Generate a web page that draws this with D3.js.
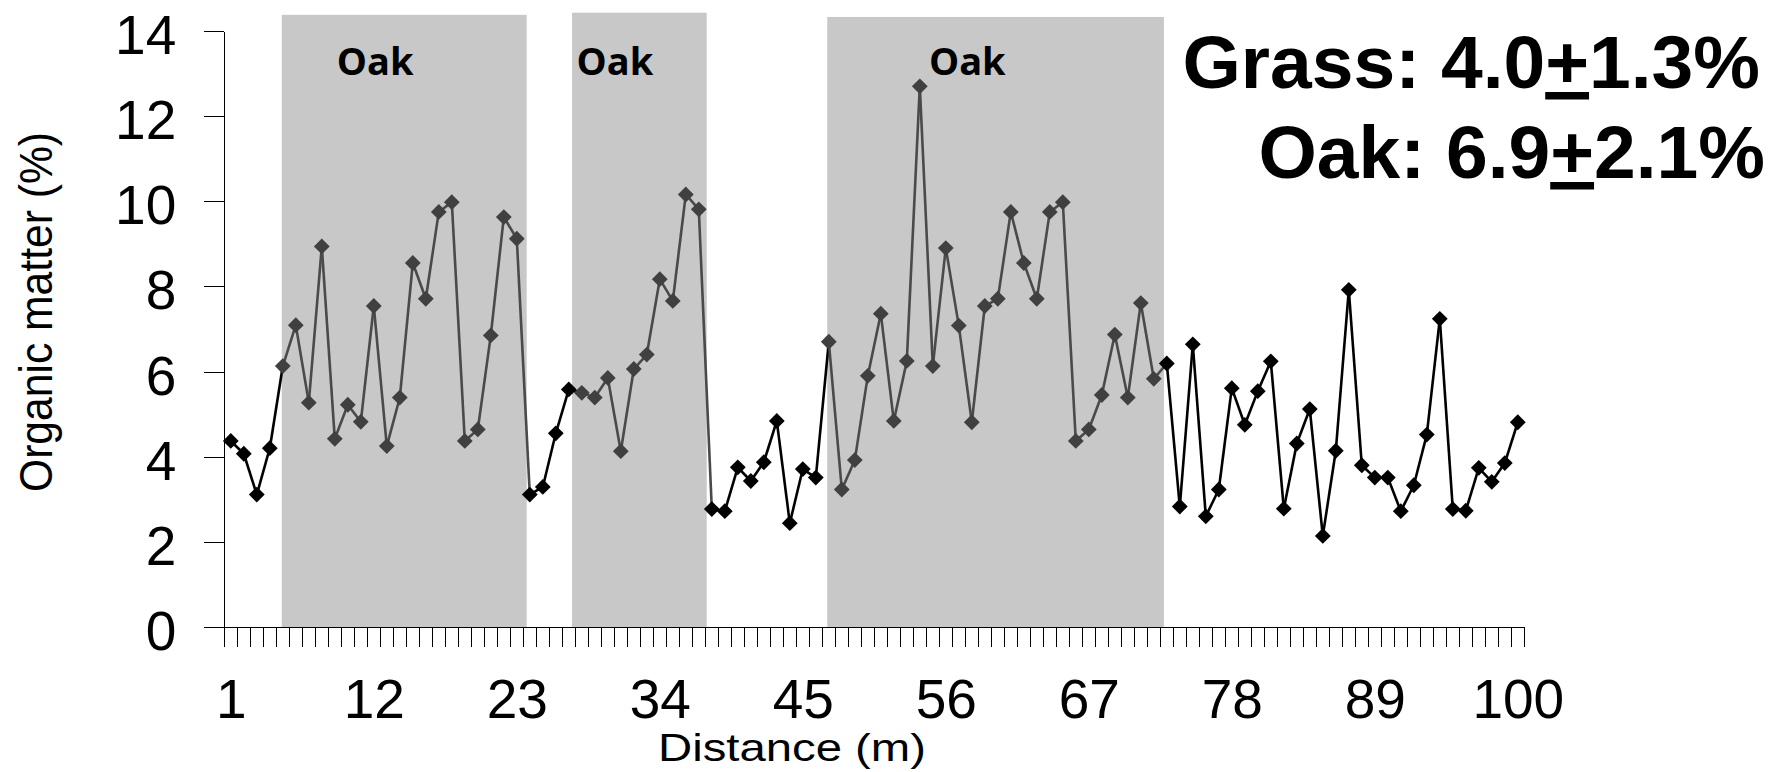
<!DOCTYPE html>
<meta charset="utf-8">
<script src="https://d3js.org/d3.v7.min.js"></script>
<style>
    body { margin: 0; background: #fff; }
    .tick line, .domain { shape-rendering: crispEdges; }
</style>
<body>
<svg id="chart" width="1776" height="772"></svg>
<script>
// organic matter (%) at each metre
var distance = d3.range(1, 101);
var organic = [
  4.37, 4.07, 3.11, 4.20, 6.13, 7.09, 5.27, 8.94, 4.42, 5.22,
  4.82, 7.54, 4.25, 5.39, 8.55, 7.71, 9.75, 9.98, 4.37, 4.64,
  6.85, 9.63, 9.12, 3.11, 3.29, 4.55, 5.58, 5.50, 5.39, 5.85,
  4.13, 6.06, 6.40, 8.17, 7.66, 10.16, 9.81, 2.77, 2.72, 3.75,
  3.43, 3.87, 4.84, 2.44, 3.71, 3.51, 6.70, 3.23, 3.92, 5.90,
  7.36, 4.84, 6.25, 12.70, 6.13, 8.90, 7.08, 4.81, 7.54, 7.71,
  9.75, 8.55, 7.71, 9.75, 9.98, 4.37, 4.64, 5.45, 6.87, 5.39,
  7.61, 5.83, 6.19, 2.83, 6.64, 2.60, 3.23, 5.61, 4.75, 5.54,
  6.24, 2.78, 4.31, 5.12, 2.14, 4.14, 7.92, 3.80, 3.51, 3.51,
  2.72, 3.33, 4.52, 7.24, 2.77, 2.73, 3.74, 3.41, 3.85, 4.81
];

// oak canopy stretches, in distance units (metres along the transect)
var oakStart = [4.42, 26.75, 46.38];
var oakEnd = [23.26, 37.11, 72.28];
var oakTop = [14.38, 14.43, 14.33];
var oakLabelAt = [8.65, 27.1, 54.2];

var xLabels = [1, 12, 23, 34, 45, 56, 67, 78, 89, 100];
var yTicks = [0, 2, 4, 6, 8, 10, 12, 14];
var summary = [
  {name: "Grass: ", mean: "4.0", sd: "1.3%"},
  {name: "Oak: ", mean: "6.9", sd: "2.1%"}
];

var svg = d3.select("#chart");
var font = "'Liberation Sans', Arial, sans-serif";

var x = d3.scaleLinear().domain([0, 100]).range([224.3, 1524.3]);
var y = d3.scaleLinear().domain([0, 14]).range([627, 31]);

function isOak(d) {
  var u = d - 0.5;
  return oakStart.some(function (s, i) { return u > s && u < oakEnd[i]; });
}

// grey oak bands
svg.append("g")
  .selectAll("rect")
  .data(oakStart)
  .enter()
  .append("rect")
    .attr("x", function (d) { return x(d); })
    .attr("width", function (d, i) { return x(oakEnd[i]) - x(d); })
    .attr("y", function (d, i) { return y(oakTop[i]); })
    .attr("height", function (d, i) { return y(0) - y(oakTop[i]); })
    .attr("fill", "#c8c8c8");

svg.append("g")
  .selectAll("text")
  .data(oakLabelAt)
  .enter()
  .append("text")
    .attr("x", function (d) { return x(d); })
    .attr("y", 75)
    .attr("font-family", "'Open Sans', sans-serif")
    .attr("font-weight", "bold")
    .attr("font-size", 38)
    .text("Oak");

// axes
var yAxis = svg.append("g")
  .attr("transform", "translate(" + x(0) + ",0)")
  .call(d3.axisLeft(y).tickValues(yTicks).tickSize(20).tickSizeOuter(0).tickPadding(28));

var xAxis = svg.append("g")
  .attr("transform", "translate(0," + y(0) + ")")
  .call(d3.axisBottom(x).tickValues(d3.range(0, 101)).tickSize(20).tickSizeOuter(0).tickFormat(""));

var xLab = svg.append("g")
  .attr("transform", "translate(0," + y(0) + ")")
  .call(d3.axisBottom(x).tickValues(xLabels.map(function (d) { return d - 0.5; }))
    .tickSize(0).tickPadding(52).tickFormat(function (d) { return d + 0.5; }));
xLab.select(".domain").remove();

[yAxis, xAxis, xLab].forEach(function (g) {
  g.selectAll("text").attr("font-family", font).attr("font-size", 55).attr("fill", "#000");
  g.selectAll("line").attr("stroke", "#000");
  g.select(".domain").attr("stroke", "#000");
});
yAxis.selectAll("text").attr("dy", "0.41em");

// axis titles
svg.append("text")
  .attr("x", 658)
  .attr("y", 761)
  .attr("font-family", font)
  .attr("font-size", 39)
  .attr("textLength", 268)
  .attr("lengthAdjust", "spacingAndGlyphs")
  .text("Distance (m)");

svg.append("text")
  .attr("transform", "translate(52,492) rotate(-90)")
  .attr("font-family", font)
  .attr("font-size", 46)
  .attr("textLength", 360)
  .attr("lengthAdjust", "spacingAndGlyphs")
  .text("Organic matter (%)");

// line segments, coloured by the zone of the starting point
var pts = distance.map(function (d, i) { return {d: d, v: organic[i], oak: isOak(d)}; });

svg.append("g")
  .selectAll("line")
  .data(pts.slice(0, -1))
  .enter()
  .append("line")
    .attr("x1", function (p) { return x(p.d - 0.5); })
    .attr("y1", function (p) { return y(p.v); })
    .attr("x2", function (p, i) { return x(pts[i + 1].d - 0.5); })
    .attr("y2", function (p, i) { return y(pts[i + 1].v); })
    .attr("stroke", function (p) { return p.oak ? "#4a4a4a" : "#000"; })
    .attr("stroke-width", 2.6);

// diamond markers
var diamond = d3.symbol().type(d3.symbolSquare).size(125);
svg.append("g")
  .selectAll("path")
  .data(pts)
  .enter()
  .append("path")
    .attr("d", diamond)
    .attr("transform", function (p) { return "translate(" + x(p.d - 0.5) + "," + y(p.v) + ") rotate(45)"; })
    .attr("fill", function (p) { return p.oak ? "#404040" : "#000"; });

// summary text, top right
var note = svg.append("g")
  .selectAll("text")
  .data(summary)
  .enter()
  .append("text")
    .attr("x", function (d, i) { return i ? 1765 : 1760; })
    .attr("y", function (d, i) { return 88 + i * 90; })
    .attr("text-anchor", "end")
    .attr("font-family", font)
    .attr("font-weight", "bold")
    .attr("font-size", 75);

note.append("tspan").text(function (d) { return d.name + d.mean; });
note.append("tspan").attr("text-decoration", "underline").text("+");
note.append("tspan").text(function (d) { return d.sd; });
</script>
</body>
